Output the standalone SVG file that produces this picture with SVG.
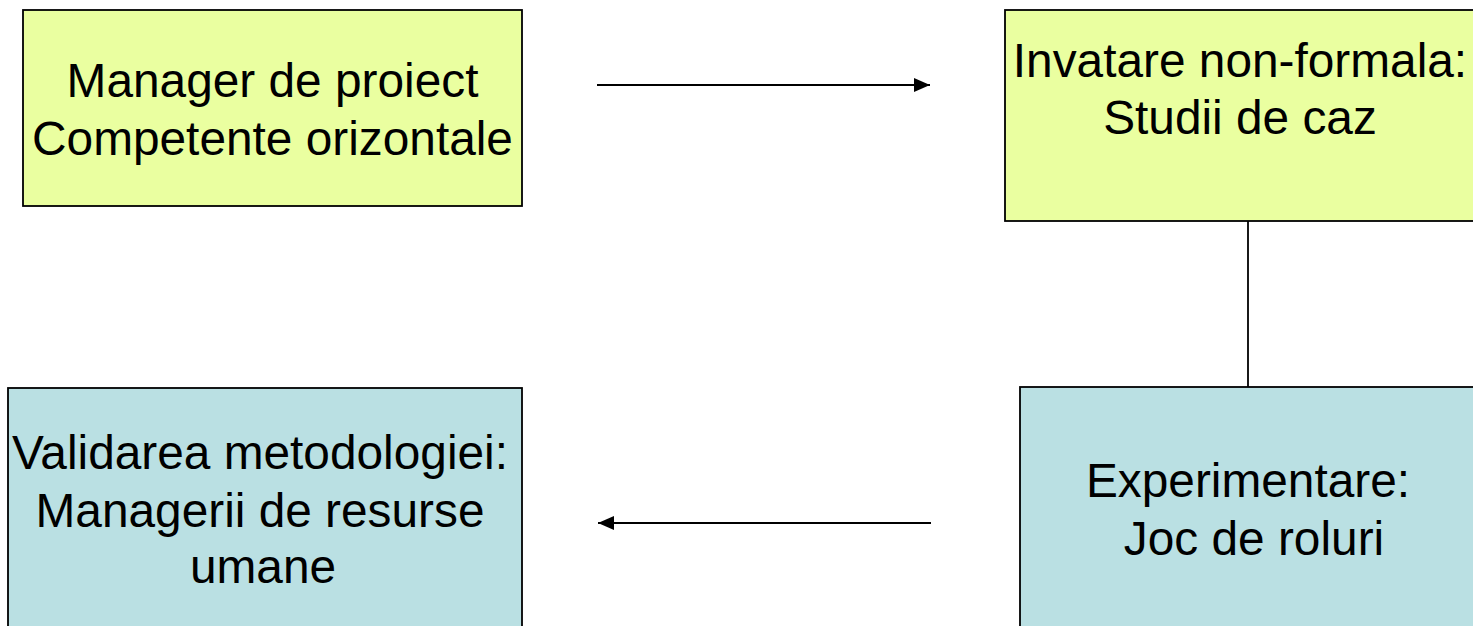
<svg xmlns="http://www.w3.org/2000/svg" width="1473" height="626" viewBox="0 0 1473 626">
<style>
.box{stroke:#000;stroke-width:1.8}
.y{fill:#EAFFA0}
.b{fill:#BAE0E3}
text{font-family:"Liberation Sans",Arial,sans-serif;font-size:47.8px;fill:#000;text-anchor:middle}
.c{stroke:#000;stroke-width:1.8;fill:none}
</style>
<defs>
<marker id="ah" viewBox="0 0 16 14" refX="16" refY="7" markerWidth="16" markerHeight="14" markerUnits="userSpaceOnUse" orient="auto">
<path d="M0,0 L16,7 L0,14 Z" fill="#000"/>
</marker>
</defs>
<rect width="1473" height="626" fill="#fff"/>
<g id="connectors">
<line class="c" x1="597" y1="85" x2="930" y2="85" marker-end="url(#ah)"/>
<line class="c" x1="931" y1="523" x2="598" y2="523" marker-end="url(#ah)"/>
<line class="c" x1="1248" y1="221" x2="1248" y2="387"/>
</g>
<g id="n1">
<rect class="box y" x="23" y="10" width="499" height="196"/>
<text x="272.5" y="97">Manager de proiect</text>
<text x="272.5" y="155">Competente orizontale</text>
</g>
<g id="n2">
<rect class="box y" x="1005" y="10" width="472" height="211"/>
<text x="1240" y="77">Invatare non-formala:</text>
<text x="1240" y="134">Studii de caz</text>
</g>
<g id="n3">
<rect class="box b" x="8" y="388" width="514" height="245"/>
<text x="260" y="469">Validarea metodologiei:</text>
<text x="260" y="527">Managerii de resurse</text>
<text x="263" y="583">umane</text>
</g>
<g id="n4">
<rect class="box b" x="1020" y="387" width="460" height="246"/>
<text x="1248" y="497">Experimentare:</text>
<text x="1254" y="555">Joc de roluri</text>
</g>
</svg>
